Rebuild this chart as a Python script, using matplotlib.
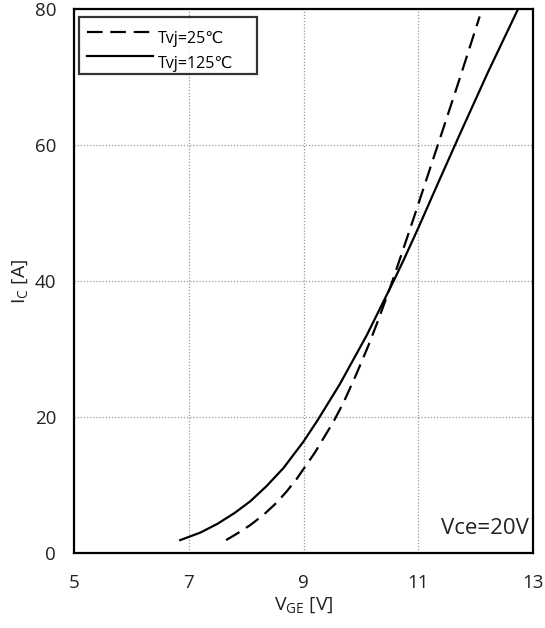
import matplotlib

matplotlib.use("Agg")
import matplotlib.pyplot as plt

plt.rcParams["font.family"] = ["Open Sans", "DejaVu Sans"]
plt.rcParams["mathtext.default"] = "regular"

# Tvj = 25 C (dashed)
vge_25 = [7.65, 7.85, 8.07, 8.30, 8.53, 8.70, 8.88, 9.20, 9.52, 9.69, 9.92,
          10.13, 10.30, 10.55, 10.71, 10.91, 11.09, 11.36, 11.70, 12.07]
ic_25 = [1.9, 2.9, 4.1, 5.6, 7.4, 9.0, 10.9, 14.8, 19.3, 22.0, 26.3,
         30.5, 34.2, 40.0, 44.0, 49.0, 53.6, 60.5, 69.2, 78.9]

# Tvj = 125 C (solid)
vge_125 = [6.85, 7.20, 7.50, 7.80, 8.07, 8.35, 8.65, 9.00, 9.25, 9.63, 10.10,
           10.57, 10.74, 11.00, 11.35, 11.72, 12.22, 12.74]
ic_125 = [1.9, 3.0, 4.3, 5.9, 7.6, 9.8, 12.5, 16.4, 19.6, 24.8, 32.0,
          40.0, 43.0, 47.8, 54.5, 61.5, 70.8, 80.0]

x_ticks = [5, 7, 9, 11, 13]
y_ticks = [0, 20, 40, 60, 80]

fig = plt.figure(figsize=(5.45, 6.28), dpi=100)
ax = fig.add_axes([0.136, 0.1194, 0.842, 0.8663])

ax.plot(vge_25, ic_25, color="black", lw=1.6, linestyle=(0, (7, 3.5)),
        label="Tvj=25℃")
ax.plot(vge_125, ic_125, color="black", lw=1.6, label="Tvj=125℃")

ax.set_xlim(5, 13)
ax.set_ylim(0, 80)
ax.set_xticks(x_ticks)
ax.set_yticks(y_ticks)
ax.tick_params(length=0, labelsize=13.5, colors="#222222")
ax.tick_params(axis="x", pad=15)
ax.tick_params(axis="y", pad=13)
ax.grid(color="#999999", linestyle=(0, (1, 1.5)), lw=0.9)
for spine in ax.spines.values():
    spine.set_linewidth(1.6)
    spine.set_color("black")

ax.set_xlabel("V$_{GE}$ [V]", fontsize=14, color="#222222", labelpad=3)
ax.set_ylabel("I$_{C}$ [A]", fontsize=14, color="#222222", labelpad=3)

ax.text(0.99, 0.025, "Vce=20V", transform=ax.transAxes, ha="right",
        va="bottom", fontsize=16, color="#222222")

leg = ax.legend(loc="upper left", bbox_to_anchor=(0.011, 0.0, 0.388, 0.985),
                mode="expand", fancybox=False, frameon=True, fontsize=11.5,
                handlelength=4.1, handletextpad=0.3, labelspacing=0.55,
                borderpad=0.5, borderaxespad=0.0)
leg.get_frame().set_edgecolor("black")
leg.get_frame().set_linewidth(1.6)
for txt in leg.get_texts():
    txt.set_y(-6)

fig.savefig("out.png", dpi=100)
